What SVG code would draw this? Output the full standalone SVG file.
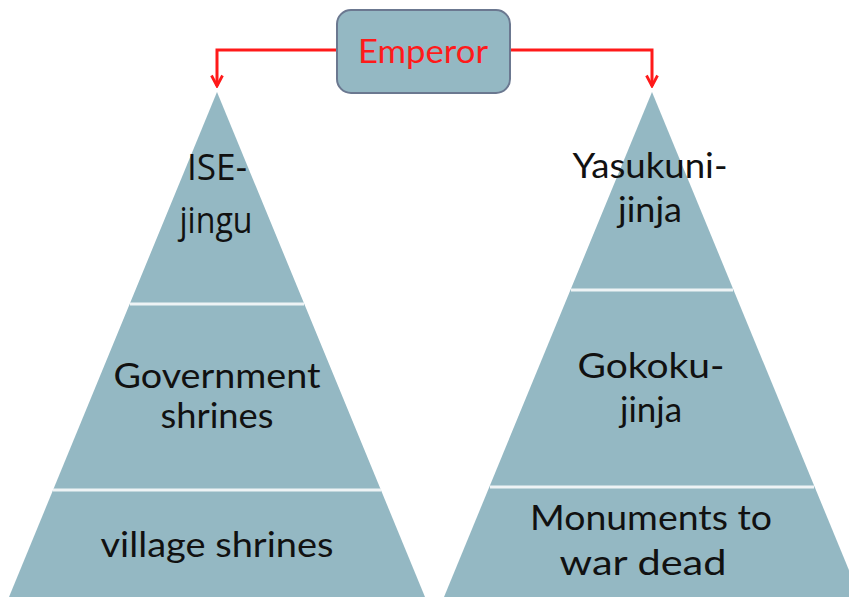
<svg xmlns="http://www.w3.org/2000/svg" width="849" height="597" viewBox="0 0 849 597">
<style>
.pyr{fill:#94b8c3}
.div{stroke:#eef3f5;stroke-width:3}
.t{font-family:Lato,"Open Sans",sans-serif;font-size:35px;fill:#111;text-anchor:middle}
.n{font-family:"Open Sans",Lato,sans-serif;font-size:36px;fill:#111;text-anchor:middle}
.conn{fill:none;stroke:#ff1a1a;stroke-width:3}
</style>
<defs>
<marker id="arr" viewBox="0 0 14 14" refX="12" refY="7" markerWidth="14" markerHeight="14" markerUnits="userSpaceOnUse" orient="auto">
<path d="M1.5,1.5 L12,7 L1.5,12.5" fill="none" stroke="#ff1a1a" stroke-width="2.8"/>
</marker>
</defs>
<g id="left-pyramid">
<polygon class="pyr" points="217,92 425,597 9,597"/>
<line class="div" x1="130" y1="304" x2="304" y2="304"/>
<line class="div" x1="53" y1="490" x2="381" y2="490"/>
<text class="n" x="217" y="180" textLength="60" lengthAdjust="spacingAndGlyphs">ISE-</text>
<text class="n" x="216" y="233" textLength="73" lengthAdjust="spacingAndGlyphs">jingu</text>
<text class="t" x="217" y="388" textLength="207" lengthAdjust="spacingAndGlyphs">Government</text>
<text class="t" x="217" y="428" textLength="113" lengthAdjust="spacingAndGlyphs">shrines</text>
<text class="t" x="217" y="557" textLength="233" lengthAdjust="spacingAndGlyphs">village shrines</text>
</g>
<g id="right-pyramid">
<polygon class="pyr" points="652,92 860,597 444,597"/>
<line class="div" x1="571" y1="290" x2="733" y2="290"/>
<line class="div" x1="490" y1="487" x2="814" y2="487"/>
<text class="t" x="650" y="178" textLength="155" lengthAdjust="spacingAndGlyphs">Yasukuni-</text>
<text class="t" x="650" y="222" textLength="64" lengthAdjust="spacingAndGlyphs">jinja</text>
<text class="t" x="651" y="378" textLength="147" lengthAdjust="spacingAndGlyphs">Gokoku-</text>
<text class="t" x="651" y="422" textLength="62" lengthAdjust="spacingAndGlyphs">jinja</text>
<text class="t" x="651" y="530" textLength="242" lengthAdjust="spacingAndGlyphs">Monuments to</text>
<text class="t" x="643" y="575" textLength="167" lengthAdjust="spacingAndGlyphs">war dead</text>
</g>
<g id="connectors">
<path class="conn" d="M337,50 H217 V86" marker-end="url(#arr)"/>
<path class="conn" d="M510,50 H652 V86" marker-end="url(#arr)"/>
</g>
<g id="emperor">
<rect x="337" y="10" width="173" height="83" rx="14" fill="#94b8c3" stroke="#6b7890" stroke-width="2"/>
<text x="423" y="63" font-family="Lato,'Open Sans',sans-serif" font-size="33" fill="#ff1a1a" text-anchor="middle" textLength="130" lengthAdjust="spacingAndGlyphs">Emperor</text>
</g>
</svg>
